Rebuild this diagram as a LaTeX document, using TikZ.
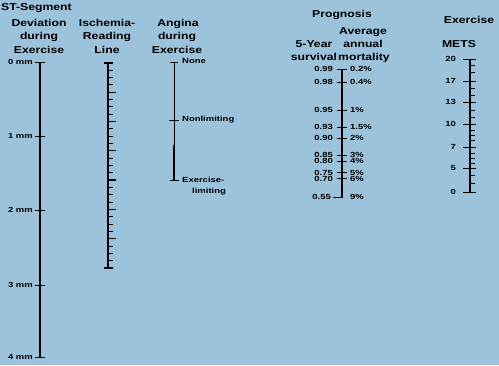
\documentclass[tikz,border=0pt]{standalone}
\usepackage{fontspec}
\usepackage{graphicx}
\setmainfont{Liberation Sans}[FakeStretch=1.22]
\newfontfamily\scalefont{Liberation Sans}[FakeStretch=1.28]
\definecolor{chartblue}{RGB}{157,195,220}

\tikzset{
  heading/.style={font=\fontsize{10}{12}\selectfont\bfseries, inner sep=0pt, anchor=base},
  scalelbl/.style={font=\scalefont\fontsize{7.4}{8}\selectfont\bfseries, inner sep=0pt},
  axis/.style={line width=1.6pt},
  tick/.style={line width=1pt}
}

\begin{document}
\begin{tikzpicture}[x=1pt,y=-1pt]
      \fill[chartblue] (0,0) rectangle (499,365);
      \useasboundingbox (0,0) rectangle (499,365);

      % headings
      \node[heading,anchor=base west] (st1) at (1,10.5) {ST-Segment};
      \node[heading] (st2) at (39,26) {Deviation};
      \node[heading] (st3) at (39,39.5) {during};
      \node[heading] (st4) at (39,53) {Exercise};
      \node[heading] (is1) at (107,26) {Ischemia-};
      \node[heading] (is2) at (107,39.5) {Reading};
      \node[heading] (is3) at (107,53) {Line};
      \node[heading] (an1) at (178,26) {Angina};
      \node[heading] (an2) at (177,39.5) {during};
      \node[heading] (an3) at (177,53) {Exercise};
      \node[heading] (pr) at (342,17) {Prognosis};
      \node[heading] (av1) at (363,34) {Average};
      \node[heading] (av2) at (363,47) {annual};
      \node[heading] (av3) at (364,60) {mortality};
      \node[heading] (sv1) at (314,47) {5-Year};
      \node[heading] (sv2) at (314,60) {survival};
      \node[heading] (ex) at (469,23) {Exercise};
      \node[heading] (mets) at (459,47) {METS};

      % ST-segment scale
      \coordinate (sttop) at (40,62);
      \coordinate (stbot) at (40,357);
      \draw[axis,line width=1.4pt] (sttop) -- (stbot);
      \foreach \mm/\y in {0/62,1/136,2/210,3/285,4/357} {
        \draw[tick] (35,\y) -- (45,\y);
        \node[scalelbl,anchor=east] (mm\mm) at (33,\y) {\mm\ mm};
      }

      % ischemia-reading line
      \coordinate (istop) at (108,63);
      \coordinate (isbot) at (108,268);
      \draw[axis,line width=2.4pt] (istop) -- (isbot);
      \draw[tick,line width=1.4pt] (104,63) -- (113,63);
      \draw[tick,line width=1.4pt] (104,268) -- (113,268);
      \foreach \i in {1,...,27} {
        \draw[tick] (108,63+\i*7.32) -- (113,63+\i*7.32);
      }
      \foreach \i in {4,8,...,24} {
        \draw[tick,line width=1.3pt] (108,63+\i*7.32) -- (116,63+\i*7.32);
      }

      % angina scale
      \coordinate (antop) at (174,62);
      \coordinate (anmid) at (174,145);
      \coordinate (anbot) at (174,180);
      \draw[line width=0.8pt] (antop) -- (anmid);
      \draw[line width=1.4pt] (anmid) -- (anbot);
      \draw[tick] (170,62) -- (178,62);
      \draw[tick] (169,120) -- (179,120);
      \draw[tick] (170,180) -- (179,180);
      \node[scalelbl,anchor=west] (none) at (182,61) {None};
      \node[scalelbl,anchor=west] (nonlim) at (182,120) {Nonlimiting};
      \node[scalelbl,anchor=west] (exlim1) at (182,180) {Exercise-};
      \node[scalelbl,anchor=west] (exlim2) at (192,192) {limiting};

      % prognosis scale
      \coordinate (prtop) at (342,69);
      \coordinate (prbot) at (342,197);
      \draw[axis,line width=2pt] (prtop) -- (prbot);
      \foreach \s/\m/\y [count=\k] in {0.99/0.2\%/69,0.98/0.4\%/82,0.95/1\%/110,0.93/1.5\%/127,
          0.90/2\%/138,0.85/3\%/155,0.80/4\%/161,0.75/5\%/172.5,0.70/6\%/178.5} {
        \draw[tick] (337,\y) -- (347,\y);
        \node[scalelbl,anchor=east] (sv\k) at (333,\y) {\s};
        \node[scalelbl,anchor=west] (mo\k) at (350,\y) {\m};
      }
      \draw[tick] (333,197) -- (343,197);
      \node[scalelbl,anchor=east] (sv10) at (331,197) {0.55};
      \node[scalelbl,anchor=west] (mo10) at (350,197) {9\%};

      % METS scale
      \coordinate (mttop) at (470,59);
      \coordinate (mtbot) at (470,192);
      \draw[axis,line width=2pt] (mttop) -- (mtbot);
      \foreach \v/\y in {20/59,17/81,13/102,10/124,7/147,5/168,0/192} {
        \draw[tick] (463,\y) -- (476,\y);
        \node[scalelbl,anchor=east] (met\v) at (456,\y) {\v};
      }
      \foreach \y in {65,72,88,95,110,117,130,135,140,153,158,163,175,183} {
        \draw[tick] (470,\y) -- (475,\y);
      }
    \end{tikzpicture}
\end{document}
